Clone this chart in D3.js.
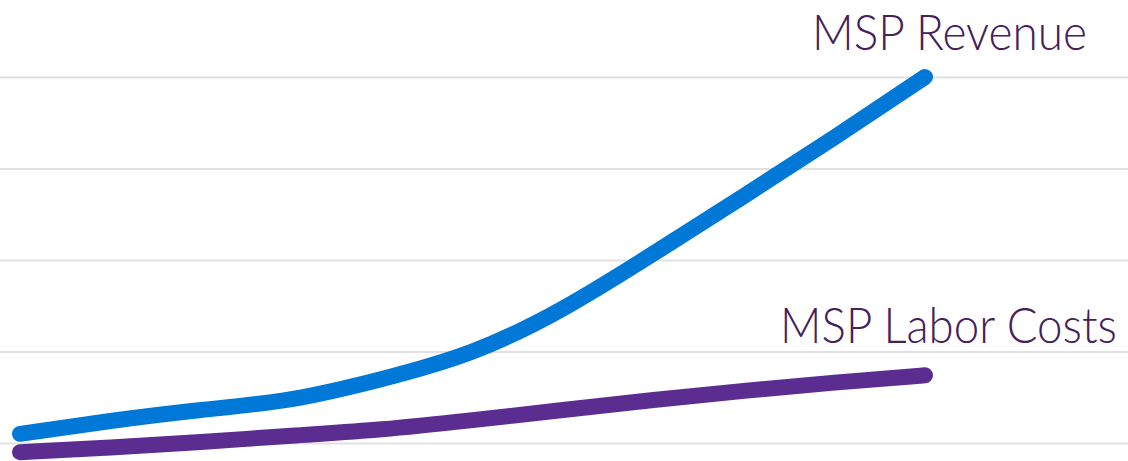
<!DOCTYPE html>
<html>
<head>
<meta charset="utf-8">
<script src="https://cdn.jsdelivr.net/npm/d3@7"></script>
<style>
  html, body { margin: 0; padding: 0; background: #fff; }
  svg { display: block; }
</style>
</head>
<body>
<div id="chart"></div>
<script>
// chart values
var periods = [0, 1, 2, 3, 4, 5, 6, 7, 8, 9, 10];
var revenue = [10, 24, 36, 48, 70, 100, 147, 207, 270, 334, 400];
var laborCosts = [-10, -5, 1, 8, 15, 25, 36, 47, 57, 66, 74];
var gridValues = [0, 100, 200, 300, 400];
var seriesNames = ["MSP Revenue", "MSP Labor Costs"];

var W = 1128, H = 461;

function createGraph(elementId, w, h){
    var graph = d3.select("#" + elementId)
        .append('svg')
        .attr('width', w)
        .attr('height', h)
        .style('background-color', 'white');
    return graph;
}

var svg = createGraph('chart', W, H);

var x = d3.scaleLinear().domain([0, 10]).range([20, 925]);
var y = d3.scaleLinear().domain([0, 400]).range([443, 77]);

// horizontal grid lines across the whole width
var grid = svg.append('g')
    .call(d3.axisLeft(y).tickValues(gridValues).tickSize(-W).tickFormat(''));
grid.select('.domain').remove();
grid.selectAll('.tick line')
    .attr('stroke', '#e1e1e1')
    .attr('stroke-width', 2);

var line = d3.line()
    .x(function(d){ return x(d[0]); })
    .y(function(d){ return y(d[1]); })
    .curve(d3.curveNatural);

function drawSeries(values, colour){
    svg.append('path')
        .datum(d3.zip(periods, values))
        .attr('d', line)
        .attr('fill', 'none')
        .attr('stroke', colour)
        .attr('stroke-width', 16)
        .attr('stroke-linecap', 'round')
        .attr('stroke-linejoin', 'round');
}

drawSeries(laborCosts, '#5c2d91');
drawSeries(revenue, '#0078d7');

// series labels, right aligned and narrowed to the reference width
function label(text, xEnd, baseline, len){
    var g = svg.append('g');
    var t = g.append('text')
        .attr('text-anchor', 'end')
        .style('font-family', 'Lato, "Open Sans", sans-serif')
        .style('font-weight', 300)
        .style('font-size', '50px')
        .style('fill', '#44215a')
        .text(text);
    var k = len / t.node().getComputedTextLength();
    g.attr('transform', 'translate(' + xEnd + ',' + baseline + ') scale(' + k + ',1)');
}
label(seriesNames[0], 1087, 50, 275);
label(seriesNames[1], 1117, 343, 337);
</script>
</body>
</html>
